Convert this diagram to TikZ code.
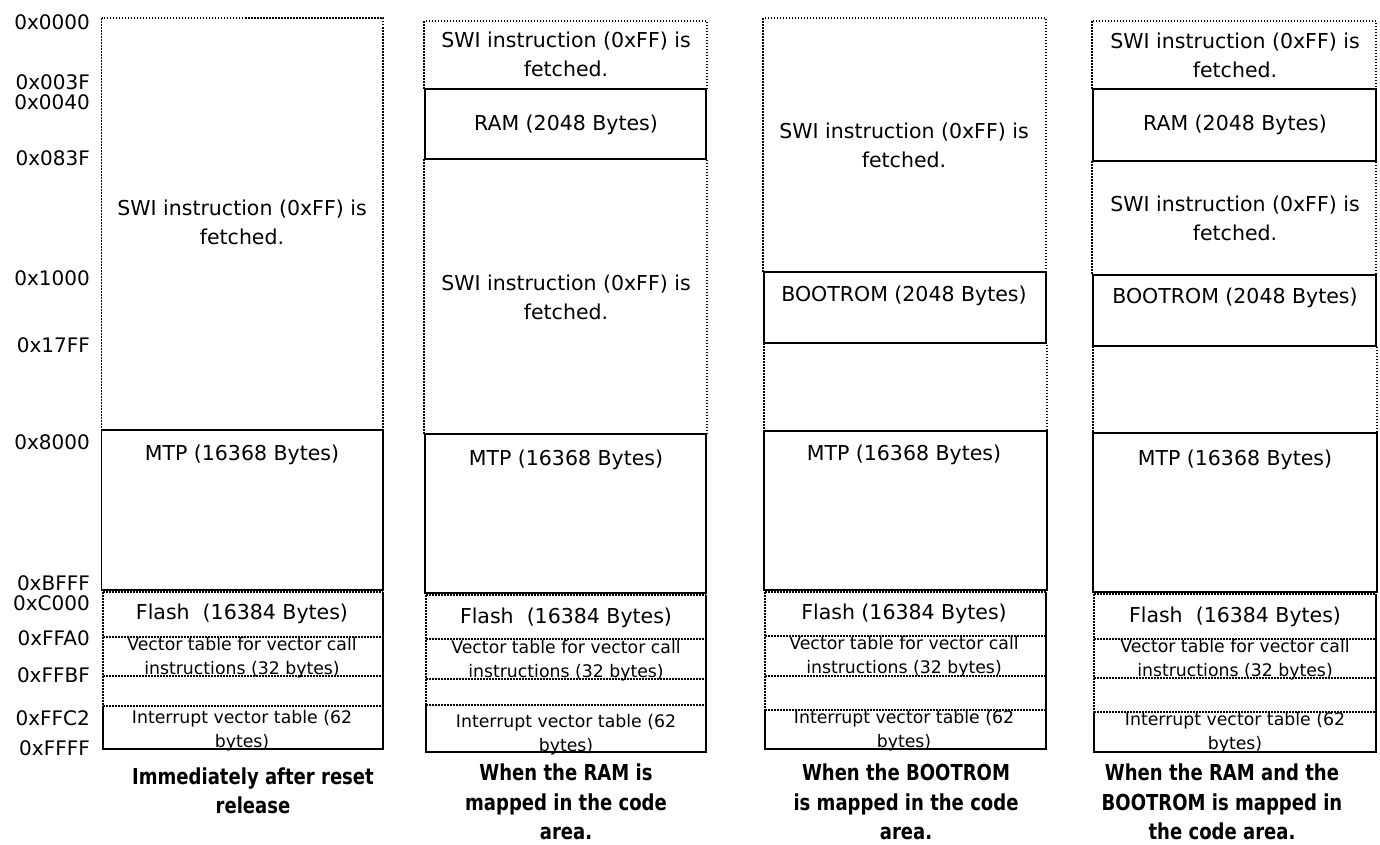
\documentclass[tikz,border=0pt]{standalone}
\usepackage{fontspec}
\setmainfont{DejaVu Sans}
\newfontfamily\capfont{DejaVu Sans}[FakeStretch=0.82]
\tikzset{
  solidline/.style={draw=black, line width=1.5pt},
  dotline/.style={draw=black, line width=1.2pt, dash pattern=on 1.5pt off 1.5pt},
  boxtext/.style={font=\fontsize{20.5}{29}\selectfont, align=center, inner sep=0pt},
  smalltext/.style={font=\fontsize{17.3}{24}\selectfont, align=center, inner sep=0pt},
  addr/.style={font=\fontsize{20}{24}\selectfont, anchor=east, inner sep=0pt},
  captext/.style={font=\capfont\bfseries\fontsize{22}{29.5}\selectfont, align=center, inner sep=0pt}
}
\newcommand{\flashsec}[7]{%
  \draw[dotline] (#1,#3) -- (#2,#3);
  \draw[dotline] (#1,#3) -- (#1,#6);
  \draw[dotline] (#1,#4) -- (#2,#4);
  \draw[dotline] (#1,#5) -- (#2,#5);
  \draw[dotline] (#1,#6) -- (#2,#6);
  \draw[solidline] (#2,#3) -- (#2,#7) -- (#1,#7) -- (#1,#6);
}
\begin{document}
\begin{tikzpicture}[x=1pt,y=-1pt]
\useasboundingbox[fill=white] (0,0) rectangle (1380,844);

% ---------------- address labels ----------------
\node[addr] (a0000) at (90,22) {0x0000};
\node[addr] (a003F) at (90,82) {0x003F};
\node[addr] (a0040) at (90,102) {0x0040};
\node[addr] (a083F) at (90,158) {0x083F};
\node[addr] (a1000) at (90,278) {0x1000};
\node[addr] (a17FF) at (90,345) {0x17FF};
\node[addr] (a8000) at (90,442) {0x8000};
\node[addr] (aBFFF) at (90,583) {0xBFFF};
\node[addr] (aC000) at (90,603) {0xC000};
\node[addr] (aFFA0) at (90,638) {0xFFA0};
\node[addr] (aFFBF) at (90,675) {0xFFBF};
\node[addr] (aFFC2) at (90,718) {0xFFC2};
\node[addr] (aFFFF) at (90,748) {0xFFFF};

% ---------------- column 1 ----------------
\draw[dotline] (101.5,18) rectangle (383,430);
\draw[solidline] (101.5,430) rectangle (383,590);
\flashsec{103}{383}{592}{637}{676}{706}{749}
\node[boxtext] (c1swi) at (242,222) {SWI instruction (0xFF) is\\fetched.};
\node[boxtext] (c1mtp) at (242,455) {MTP (16368 Bytes)};
\node[boxtext] (c1fl) at (242,614) {Flash\ \ (16384 Bytes)};
\node[smalltext] (c1vt) at (242,658) {Vector table for vector call\\instructions (32 bytes)};
\node[smalltext] (c1it) at (242,731) {Interrupt vector table (62\\bytes)};
\node[captext] (c1cap) at (253,791) {Immediately after reset\\release};

% ---------------- column 2 ----------------
\draw[dotline] (424,21) rectangle (707,89);
\draw[dotline] (424,159) rectangle (707,434);
\draw[solidline] (425,89) rectangle (706,159);
\draw[solidline] (425,434) rectangle (706,593);
\flashsec{426}{706}{595}{639}{679}{705}{752}
\node[boxtext] (c2swi1) at (566,54) {SWI instruction (0xFF) is\\fetched.};
\node[boxtext] (c2ram) at (566,125) {RAM (2048 Bytes)};
\node[boxtext] (c2swi2) at (566,297) {SWI instruction (0xFF) is\\fetched.};
\node[boxtext] (c2mtp) at (566,460) {MTP (16368 Bytes)};
\node[boxtext] (c2fl) at (566,618) {Flash\ \ (16384 Bytes)};
\node[smalltext] (c2vt) at (566,661) {Vector table for vector call\\instructions (32 bytes)};
\node[smalltext] (c2it) at (566,735) {Interrupt vector table (62\\bytes)};
\node[captext] (c2cap) at (566,802) {When the RAM is\\mapped in the code\\area.};

% ---------------- column 3 ----------------
\draw[dotline] (763,18) rectangle (1046,272);
\draw[dotline] (764,343) rectangle (1047,431);
\draw[solidline] (764,272) rectangle (1046,343);
\draw[solidline] (764,431) rectangle (1047,590);
\flashsec{765}{1046}{592}{636}{676}{710}{749}
\node[boxtext] (c3swi) at (904,145) {SWI instruction (0xFF) is\\fetched.};
\node[boxtext] (c3boot) at (904,296) {BOOTROM (2048 Bytes)};
\node[boxtext] (c3mtp) at (904,455) {MTP (16368 Bytes)};
\node[boxtext] (c3fl) at (904,614) {Flash (16384 Bytes)};
\node[smalltext] (c3vt) at (904,657) {Vector table for vector call\\instructions (32 bytes)};
\node[smalltext] (c3it) at (904,731) {Interrupt vector table (62\\bytes)};
\node[captext] (c3cap) at (906,802) {When the BOOTROM\\is mapped in the code\\area.};

% ---------------- column 4 ----------------
\draw[dotline] (1092,21) rectangle (1376,89);
\draw[dotline] (1092,161) rectangle (1376,275);
\draw[dotline] (1093,346) rectangle (1377,433);
\draw[solidline] (1093,89) rectangle (1376,161);
\draw[solidline] (1093,275) rectangle (1376,346);
\draw[solidline] (1093,433) rectangle (1377,592);
\flashsec{1094}{1376}{594}{639}{678}{712}{752}
\node[boxtext] (c4swi1) at (1235,55) {SWI instruction (0xFF) is\\fetched.};
\node[boxtext] (c4ram) at (1235,125) {RAM (2048 Bytes)};
\node[boxtext] (c4swi2) at (1235,218) {SWI instruction (0xFF) is\\fetched.};
\node[boxtext] (c4boot) at (1235,298) {BOOTROM (2048 Bytes)};
\node[boxtext] (c4mtp) at (1235,460) {MTP (16368 Bytes)};
\node[boxtext] (c4fl) at (1235,617) {Flash\ \ (16384 Bytes)};
\node[smalltext] (c4vt) at (1235,660) {Vector table for vector call\\instructions (32 bytes)};
\node[smalltext] (c4it) at (1235,733) {Interrupt vector table (62\\bytes)};
\node[captext] (c4cap) at (1222,802) {When the RAM and the\\BOOTROM is mapped in\\the code area.};
\end{tikzpicture}
\end{document}
